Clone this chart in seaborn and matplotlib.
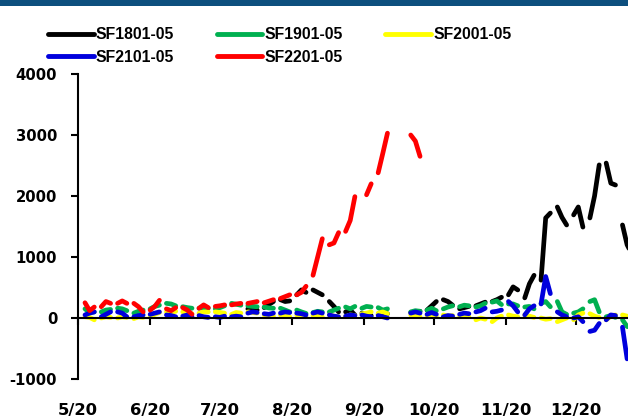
import numpy as np
import pandas as pd
import matplotlib.pyplot as plt
from matplotlib.lines import Line2D
from matplotlib.patches import Rectangle
import seaborn as sns

# ---------------------------
# DATA
# ---------------------------
names = ["SF1801-05", "SF1901-05", "SF2001-05", "SF2101-05", "SF2201-05"]
colors = ["#000000", "#00b050", "#ffff00", "#0000dd", "#ff0000"]

# weekly trading segments: values on Mon, Wed, Fri of each week
first_monday = "2020-05-04"
n_weeks = 34
day_offsets = [0, 2, 4]

tick_dates = ["2020-05-01", "2020-06-01", "2020-07-01", "2020-08-01",
              "2020-09-01", "2020-10-01", "2020-11-01", "2020-12-01"]
tick_labels = ["5/20", "6/20", "7/20", "8/20", "9/20", "10/20", "11/20", "12/20"]

N = np.nan
sf1801 = [N, N, N,  N, N, N,  N, N, N,  N, N, N,  N, N, N,
          N, N, N,  N, N, N,  N, N, N,  N, N, N,  N, N, N,
          150, 140, 130,  170, 220, 270,  300, 270, 280,  380, 460, 420,
          460, 420, 380,  270, 190, 100,  100, 130, 50,  80, 60, 40,
          60, 80, 70,  N, N, N,  90, 100, 110,  130, 200, 270,
          300, 270, 210,  150, 170, 190,  200, 230, 260,  270, 300, 340,
          380, 510, 460,  330, 560, 700,  620, 1640, 1720,  1820, 1650, 1525,
          1690, 1820, 1490,  1640, 2000, 2510,  2540, 2210, 2180,  1525, 1200, 1050]
sf1901 = [150, 90, 100,  100, 130, 140,  160, 150, 120,  80, 110, 130,
          150, 190, 210,  240, 230, 200,  185, 170, 160,  160, 170, 160,
          150, 170, 200,  240, 225, 210,  200, 190, 185,  180, 165, 160,
          160, 130, 100,  130, 100, 75,  90, 110, 100,  100, 130, 160,
          180, 150, 190,  160, 190, 180,  170, 130, 150,  N, N, N,
          100, 120, 110,  130, 160, 120,  150, 180, 200,  185, 210, 200,
          180, 200, 240,  260, 280, 220,  230, 230, 200,  180, 190, 150,
          240, 270, 185,  270, 100, 60,  80, 100, 150,  270, 300, 100,
          20, 40, 10,  -30, -140, -150]
sf2001 = [20, 10, -30,  0, 20, 10,  0, 20, 10,  -10, 20, 10,
          20, 60, 90,  100, 90, 110,  100, 80, 70,  80, 100, 100,
          100, 90, 80,  60, 90, 80,  100, 90, 80,  50, 40, 30,
          50, 30, 20,  50, 30, 20,  40, 30, 20,  50, 30, 20,
          20, 50, 40,  70, 80, 100,  80, 100, 70,  N, N, N,
          50, 30, 20,  40, 60, 30,  50, 30, 40,  20, 40, 20,
          -30, 0, -20,  -60, 0, 30,  50, 30, 20,  50, 30, 10,
          0, -20, -10,  -60, -30, 0,  -30, 50, 80,  70, 30, 10,
          -30, 30, 50,  50, 30, 20]
sf2101 = [50, 80, 100,  20, 60, 100,  100, 80, 20,  20, 40, 50,
          60, 80, 100,  50, 40, 20,  30, 50, 20,  40, 20, 10,
          20, 10, 30,  20, 30, 20,  80, 100, 90,  70, 60, 80,
          80, 100, 90,  80, 70, 50,  80, 100, 80,  50, 30, 20,
          30, 50, 40,  50, 30, 20,  40, 20, 0,  N, N, N,
          80, 100, 80,  60, 90, 60,  20, 40, 30,  60, 80, 70,
          100, 120, 160,  100, 110, 130,  270, 200, 100,  50, 150, 200,
          230, 680, 400,  100, 50, 20,  0, 20, -60,  -220, -200, -90,
          -30, 50, 40,  -150, -670, N]
sf2201 = [250, 120, 180,  185, 270, 240,  240, 280, 240,  240, 185, 100,
          130, 190, 290,  150, 120, 170,  170, 130, 60,  160, 215, 170,
          190, 200, 215,  215, 230, 240,  240, 255, 270,  250, 275, 300,
          320, 350, 380,  380, 420, 520,  700, 1000, 1300,  1200, 1230, 1400,
          1420, 1600, 1990,  N, 2020, 2200,  2380, 2700, 3030,  N, N, N,
          3000, 2900, 2650,  N, N, N,  N, N, N,  N, N, N,
          N, N, N,  N, N, N,  N, N, N,  N, N, N,
          N, N, N,  N, N, N,  N, N, N,  N, N, N,
          N, N, N,  N, N, N]

all_series = [sf1801, sf1901, sf2001, sf2101, sf2201]

# ---------------------------
# BUILD LONG TABLE (one unit per weekly segment)
# ---------------------------
mondays = pd.date_range(first_monday, periods=n_weeks, freq="7D")
rows = []
for name, vals in zip(names, all_series):
    for k, monday in enumerate(mondays):
        for j, off in enumerate(day_offsets):
            rows.append({"date": monday + pd.Timedelta(days=off),
                         "value": vals[3 * k + j],
                         "series": name,
                         "seg": k})
df = pd.DataFrame(rows).dropna()

# ---------------------------
# PLOT
# ---------------------------
sns.set_style("ticks")
plt.rcParams["font.family"] = ["DejaVu Sans"]
plt.rcParams["font.weight"] = "bold"
plt.rcParams["text.color"] = "black"
plt.rcParams["axes.unicode_minus"] = False

fig = plt.figure(figsize=(6.28, 4.19), dpi=100)
ax = fig.add_axes([78 / 628, 1 - 379 / 419, 1 - 78 / 628, (379 - 74) / 419])

sns.lineplot(data=df, x="date", y="value", hue="series", units="seg",
             estimator=None, hue_order=names,
             palette=dict(zip(names, colors)), lw=3.4,
             solid_capstyle="round", legend=False, ax=ax)

ax.set_ylim(-1000, 4000)
ax.set_yticks(range(-1000, 4001, 1000))
ax.set_xlim(pd.Timestamp("2020-05-01"), pd.Timestamp("2020-12-23 09:00"))
ax.set_xticks(pd.to_datetime(tick_dates))
ax.set_xticklabels(tick_labels)
ax.set_xlabel("")
ax.set_ylabel("")

ax.spines["bottom"].set_position(("data", 0))
ax.spines["top"].set_visible(False)
ax.spines["right"].set_visible(False)
ax.spines["left"].set_linewidth(1.5)
ax.spines["bottom"].set_linewidth(1.5)
ax.spines["left"].set_color("black")
ax.spines["bottom"].set_color("black")
ax.tick_params(axis="x", direction="out", length=5, width=1.5, pad=56,
               labelsize=11.8, colors="black")
ax.tick_params(axis="y", direction="out", length=5, width=1.5, pad=10,
               labelsize=10.7, colors="black")

# top banner line
fig.add_artist(Rectangle((0, 1 - 6 / 419), 1, 6 / 419, transform=fig.transFigure,
                         color="#0d4f7e", lw=0))

# legend, filled row by row
order = [0, 3, 1, 4, 2]
handles = [Line2D([], [], color=colors[i], lw=3.5, solid_capstyle="round") for i in order]
labels = [names[i] for i in order]
leg = fig.legend(handles, labels, ncol=3, loc="upper left",
                 bbox_to_anchor=(48 / 628, 1 - 27 / 419), frameon=False,
                 prop={"family": "Liberation Sans", "weight": "bold", "size": 11.3},
                 handlelength=2.9, handletextpad=0.15,
                 columnspacing=2.7, borderpad=0, borderaxespad=0, labelspacing=0.5)
for t in leg.get_texts():
    t.set_color("black")

fig.savefig("out.png", dpi=100)
